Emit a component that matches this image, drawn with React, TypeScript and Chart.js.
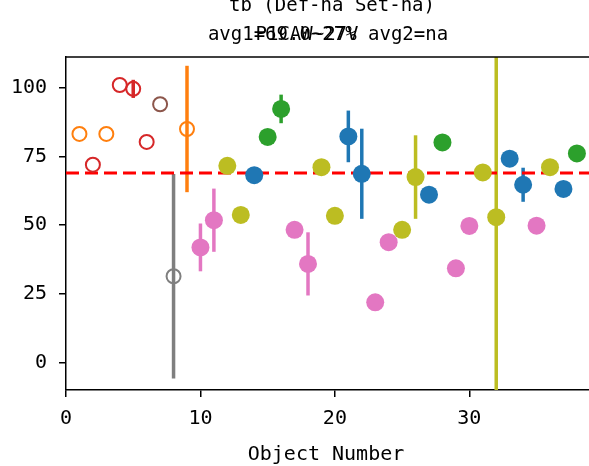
import React, { useEffect, useRef } from "react";
import { Chart, registerables } from "chart.js";

Chart.register(...registerables);

// ---- data ----
const objectNumbers = [1, 2, 3, 4, 5, 6, 7, 8, 9, 10, 11, 12, 13, 14, 15, 16, 17, 18, 19, 20, 21, 22, 23, 24, 25, 26, 27, 28, 29, 30, 31, 32, 33, 34, 35, 36, 37, 38];
const values = [83.2, 72.0, 83.2, 101.0, 99.6, 80.3, 94.0, 31.4, 85.0, 41.9, 51.8, 71.6, 53.7, 68.2, 82.1, 92.3, 48.3, 35.9, 71.1, 53.4, 82.3, 68.7, 21.9, 43.8, 48.3, 67.5, 61.1, 80.1, 34.3, 49.7, 69.2, 52.9, 74.2, 64.7, 49.8, 71.1, 63.2, 76.1];
const errors = [0, 0, 0, 0, 3.3, 0, 0, 37.2, 23.0, 8.7, 11.5, 0, 0, 0, 0, 5.2, 0, 11.5, 0, 0, 9.4, 16.4, 0, 0, 0, 15.2, 0, 0, 0, 0, 0, 90, 0, 6.2, 0, 0, 0, 0];
const colorNames = ["orange", "red", "orange", "red", "red", "red", "brown", "gray", "orange", "pink", "pink", "olive", "olive", "blue", "green", "green", "pink", "pink", "olive", "olive", "blue", "blue", "pink", "pink", "olive", "olive", "blue", "green", "pink", "pink", "olive", "olive", "blue", "blue", "pink", "olive", "blue", "green"];
const hollow = [true, true, true, true, true, true, true, true, true, false, false, false, false, false, false, false, false, false, false, false, false, false, false, false, false, false, false, false, false, false, false, false, false, false, false, false, false, false];
const averageValue = 69.0;
const xTicks = [0, 10, 20, 30];
const yTicks = [0, 25, 50, 75, 100];
const titleLine1 = "tb (Def-na Set-na)";
const titleLine2 = "avg1=69.0~27% avg2=na";
const titleOverlay = "P1CAW~27V";
const xLabel = "Object Number";

const palette: Record<string, string> = {
  blue: "#1f77b4",
  orange: "#ff7f0e",
  green: "#2ca02c",
  red: "#d62728",
  brown: "#8c564b",
  pink: "#e377c2",
  gray: "#7f7f7f",
  olive: "#bcbd22",
};

const FONT = "'DejaVu Sans Mono'";

export default function App() {
  const ref = useRef<HTMLCanvasElement | null>(null);

  useEffect(() => {
    if (!ref.current) return;
    const colors = colorNames.map((c) => palette[c]);

    const overlayPlugin = {
      id: "overlay",
      beforeDatasetsDraw(chart: any) {
        const { ctx, chartArea, scales } = chart;
        const xs = scales.x;
        const ys = scales.y;
        ctx.save();
        ctx.beginPath();
        ctx.rect(chartArea.left, chartArea.top, chartArea.right - chartArea.left, chartArea.bottom - chartArea.top);
        ctx.clip();
        ctx.lineWidth = 3.5;
        ctx.lineCap = "butt";
        objectNumbers.forEach((n, i) => {
          const e = errors[i];
          if (!e) return;
          const px = xs.getPixelForValue(n);
          ctx.strokeStyle = colors[i];
          ctx.beginPath();
          ctx.moveTo(px, ys.getPixelForValue(values[i] - e));
          ctx.lineTo(px, ys.getPixelForValue(values[i] + e));
          ctx.stroke();
        });
        const py = ys.getPixelForValue(averageValue);
        ctx.strokeStyle = "#ff0000";
        ctx.lineWidth = 3;
        ctx.setLineDash([13, 6]);
        ctx.beginPath();
        ctx.moveTo(chartArea.left, py);
        ctx.lineTo(chartArea.right, py);
        ctx.stroke();
        ctx.restore();
      },
      afterDraw(chart: any) {
        const { ctx, chartArea } = chart;
        ctx.save();
        ctx.strokeStyle = "#000";
        ctx.lineWidth = 1.5;
        ctx.beginPath();
        ctx.moveTo(chartArea.left, chartArea.top);
        ctx.lineTo(chartArea.right, chartArea.top);
        ctx.stroke();
        ctx.fillStyle = "#000";
        ctx.textAlign = "center";
        ctx.textBaseline = "alphabetic";
        ctx.font = `19px ${FONT}`;
        ctx.fillText(titleLine1, 332, 11);
        ctx.fillText(titleLine2, 328, 40);
        ctx.fillText(titleOverlay, 307, 40, 170);
        ctx.font = `20px ${FONT}`;
        ctx.fillText(xLabel, 326, 460);
        ctx.restore();
      },
    };

    const chart = new Chart(ref.current, {
      type: "scatter",
      data: {
        datasets: [
          {
            data: objectNumbers.map((n, i) => ({ x: n, y: values[i] })),
            pointBackgroundColor: colors.map((c, i) => (hollow[i] ? "rgba(0,0,0,0)" : c)),
            pointBorderColor: colors,
            pointBorderWidth: hollow.map((h) => (h ? 2 : 0)),
            pointRadius: hollow.map((h) => (h ? 7 : 9)),
            pointHoverRadius: hollow.map((h) => (h ? 7 : 9)),
          },
        ],
      },
      plugins: [overlayPlugin],
      options: {
        animation: false,
        responsive: false,
        maintainAspectRatio: false,
        devicePixelRatio: 1,
        layout: { autoPadding: false, padding: { top: 57, right: 0, left: 0, bottom: 0 } },
        plugins: { legend: { display: false }, tooltip: { enabled: false }, title: { display: false } },
        scales: {
          x: {
            type: "linear",
            min: 0,
            max: 38.9,
            afterBuildTicks: (s: any) => {
              s.ticks = xTicks.map((v) => ({ value: v }));
            },
            afterFit: (s: any) => {
              s.height = 76;
            },
            ticks: {
              color: "#000",
              font: { family: FONT, size: 20 },
              padding: 10,
              maxRotation: 0,
              autoSkip: false,
            },
            grid: { display: true, drawOnChartArea: false, drawTicks: true, tickLength: 7, color: "#000", lineWidth: 1.5 },
            border: { display: true, color: "#000", width: 1.5 },
          },
          y: {
            type: "linear",
            min: -10,
            max: 111.2,
            afterBuildTicks: (s: any) => {
              s.ticks = yTicks.map((v) => ({ value: v }));
            },
            afterFit: (s: any) => {
              s.width = 66;
            },
            ticks: {
              color: "#000",
              font: { family: FONT, size: 20 },
              padding: 12,
              autoSkip: false,
            },
            grid: { display: true, drawOnChartArea: false, drawTicks: true, tickLength: 7, color: "#000", lineWidth: 1.5 },
            border: { display: true, color: "#000", width: 1.5 },
          },
        },
      },
    });
    return () => chart.destroy();
  }, []);

  return (
    <div style={{ position: "absolute", left: 0, top: 0, width: 589, height: 466, background: "#fff" }}>
      <canvas ref={ref} width={589} height={466} style={{ display: "block", width: 589, height: 466 }} />
    </div>
  );
}
